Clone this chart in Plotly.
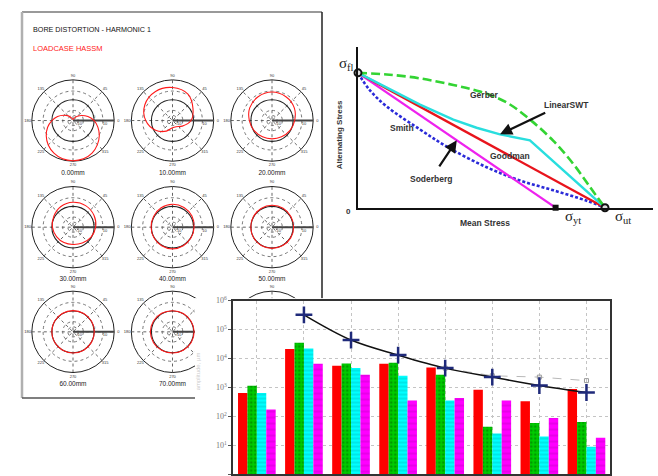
import numpy as np
import plotly.graph_objects as go

W, H = 658, 476

# ---------------- data: bore distortion document ----------------
DOC_TITLE = "BORE DISTORTION - HARMONIC 1"
DOC_LOADCASE = "LOADCASE HASSM"
SECTION_LABELS = ["0.00mm", "10.00mm", "20.00mm", "30.00mm", "40.00mm",
                  "50.00mm", "60.00mm", "70.00mm", "80.00mm"]
ANGLES_15 = [0, 15, 30, 45, 60, 75, 90, 105, 120, 135, 150, 165,
             180, 195, 210, 225, 240, 255, 270, 285, 300, 315, 330, 345]
ANGLES_30 = [0, 30, 60, 90, 120, 150, 180, 210, 240, 270, 300, 330]
R_0MM = [20.5, 15, 10, 6, 3, 1.5, 1, 1.5, 3, 6.5, 10.5, 15.5,
         20.5, 25.5, 30, 34, 37, 39, 39.5, 39, 37, 33.5, 29.5, 25]
R_10MM = [18, 23, 30, 32.5, 33, 31, 26, 19, 12, 7, 7, 11]
R_20MM = [22, 25, 27, 28, 27, 25, 22, 20, 18.5, 18, 18.5, 20]
R_30MM = [22, 23.5, 24.5, 24.5, 23.5, 21.5, 20, 18.5, 17.5, 17, 18, 20]
R_40MM = [21, 21.8, 22.3, 22.5, 22, 21.2, 20.8, 20.8, 21, 21.3, 21, 20.8]
R_50MM = [21, 21.2, 21.5, 21.5, 21.2, 20.8, 20.6, 20.6, 20.8, 20.8, 20.8, 21]
R_60MM = [20.7, 20.8, 20.9, 20.9, 20.8, 20.7, 20.6, 20.6, 20.7, 20.8, 20.8, 20.7]
R_70MM = [21, 20.8, 20.8, 20.8, 21, 21.3, 21.5, 21.3, 21, 20.8, 20.8, 21]
R_80MM = [20.8, 20.8, 20.8, 20.8, 20.8, 20.8, 20.8, 20.8, 20.8, 20.8, 20.8, 20.8]
NOMINAL_R = 20.5
OUTER_R = 40
GRID_RADII = [5, 10, 29]
SPOKE_ANGLES = [0, 45, 90, 135]
ANGULAR_TICKS = [0, 45, 90, 135, 180, 225, 270, 315]
ANGULAR_TICK_TEXT = ["0", "45", "90", "135", "180", "225", "270", "315"]
RADIAL_TICKS = [6, 20.5, 31]
RADIAL_TICK_TEXT = ["-10", "0", "10"]

# ---------------- data: Haigh / Goodman diagram ----------------
GOODMAN_X = [0, 1.0]
GOODMAN_Y = [1.0, 0]
SODERBERG_X = [0, 0.80]
SODERBERG_Y = [1.0, 0]
GERBER_X = [0, 0.116, 0.251, 0.386, 0.494, 0.602, 0.696, 0.791, 0.872, 0.939, 1.0]
GERBER_Y = [1.0, 0.988, 0.959, 0.910, 0.861, 0.780, 0.654, 0.495, 0.324, 0.154, 0]
SMITH_X = [0, 0.047, 0.116, 0.251, 0.366, 0.521, 0.656, 0.791, 0.926, 1.0]
SMITH_Y = [1.0, 0.873, 0.751, 0.580, 0.446, 0.300, 0.202, 0.129, 0.052, 0]
SWT_X = [0, 0.116, 0.251, 0.386, 0.480, 0.575, 0.640, 0.696, 1.0]
SWT_Y = [1.0, 0.890, 0.764, 0.654, 0.593, 0.544, 0.520, 0.500, 0]
SIGMA_FL = (0, 1.0)
SIGMA_YT = (0.80, 0)
SIGMA_UT = (1.0, 0)

# ---------------- data: bar chart ----------------
BAR_CATEGORIES = [1, 2, 3, 4, 5, 6, 7, 8]
BAR_RED = [630, 21000, 5600, 6500, 4800, 820, 330, 870]
BAR_GREEN = [1120, 35000, 6700, 7100, 2700, 43, 58, 63]
BAR_CYAN = [630, 22000, 4600, 2500, 350, 25, 20, 8.7]
BAR_MAGENTA = [170, 6500, 2700, 350, 430, 350, 87, 18]
LIMIT_X = [2, 3, 4, 5, 6, 7, 8]
LIMIT_Y = [320000, 43000, 13000, 4600, 2250, 1150, 660]
REF_X = [5, 6, 7, 8]
REF_Y = [4600, 2500, 2250, 1700]
LOG_TICKS = [1, 10, 100, 1000, 10000, 100000, 1000000]
LOG_TICK_TEXT = ["10<sup>0</sup>", "10<sup>1</sup>", "10<sup>2</sup>", "10<sup>3</sup>",
                 "10<sup>4</sup>", "10<sup>5</sup>", "10<sup>6</sup>"]

SANS = "Liberation Sans, Arial, sans-serif"
SERIF = "Liberation Serif, Times New Roman, serif"


def fx(px):
    return px / W


def fy(py):
    return 1 - py / H


def ids(n):
    s = "" if n == 1 else str(n)
    return "x" + s, "y" + s, "xaxis" + s, "yaxis" + s


fig = go.Figure()
axes = {}
shapes = []
annotations = []

# bar-chart panel region (px) that hides the lower-right of the document
PANEL_X0, PANEL_Y0 = 195, 296


def hidden(px, py):
    return px > PANEL_X0 - 2 and py > PANEL_Y0 - 3


# ---------- document frame ----------
shapes += [
    dict(type="line", xref="paper", yref="paper", x0=fx(22), x1=fx(322), y0=fy(6), y1=fy(6),
         line=dict(color="#777", width=1.5), layer="below"),
    dict(type="line", xref="paper", yref="paper", x0=fx(22), x1=fx(22), y0=fy(6), y1=fy(397),
         line=dict(color="#b0b0b0", width=2.5), layer="below"),
    dict(type="line", xref="paper", yref="paper", x0=fx(22), x1=fx(322), y0=fy(397), y1=fy(397),
         line=dict(color="#555", width=1.5), layer="below"),
    dict(type="line", xref="paper", yref="paper", x0=fx(322), x1=fx(322), y0=fy(6), y1=fy(397),
         line=dict(color="#222", width=1.5), layer="below"),
]
annotations += [
    dict(xref="paper", yref="paper", x=fx(31), y=fy(24), xanchor="left", yanchor="middle",
         text=DOC_TITLE, showarrow=False, font=dict(family=SANS, size=7.2, color="#111")),
    dict(xref="paper", yref="paper", x=fx(31), y=fy(43), xanchor="left", yanchor="middle",
         text=DOC_LOADCASE, showarrow=False, font=dict(family=SANS, size=7.5, color="#ff2020")),
]

# ---------- polar plots ----------
POLAR_CENTERS = [(73, 116), (172.5, 116), (272, 116),
                 (73, 224), (172.5, 224), (272, 224),
                 (73, 330), (172.5, 330), (272, 330)]
POLAR_R = [R_0MM, R_10MM, R_20MM, R_30MM, R_40MM, R_50MM, R_60MM, R_70MM, R_80MM]
POLAR_ANG = [ANGLES_15] + [ANGLES_30] * 8
PXU = 1.03
HALF_X = 49.5
TOP = 48.5
BOTTOM = 56.0

for i, (cx, cy) in enumerate(POLAR_CENTERS):
    xr, yr, xa, ya = ids(i + 1)
    axes[xa] = dict(domain=[fx(cx - HALF_X), fx(cx + HALF_X)], range=[-HALF_X / PXU, HALF_X / PXU],
                    visible=False, anchor=yr)
    axes[ya] = dict(domain=[fy(cy + BOTTOM), fy(cy - TOP)], range=[-BOTTOM / PXU, TOP / PXU],
                    visible=False, anchor=xr)
    for rr in GRID_RADII:
        shapes.append(dict(type="circle", xref=xr, yref=yr, x0=-rr, x1=rr, y0=-rr, y1=rr,
                           line=dict(color="#666", width=0.9, dash="dot"), layer="below"))
    for a in SPOKE_ANGLES:
        c, s = np.cos(np.deg2rad(a)), np.sin(np.deg2rad(a))
        shapes.append(dict(type="line", xref=xr, yref=yr,
                           x0=-OUTER_R * c, x1=OUTER_R * c, y0=-OUTER_R * s, y1=OUTER_R * s,
                           line=dict(color="#555", width=0.9, dash="dot"), layer="below"))
    shapes.append(dict(type="circle", xref=xr, yref=yr, x0=-OUTER_R, x1=OUTER_R, y0=-OUTER_R, y1=OUTER_R,
                       line=dict(color="#222", width=1), layer="below"))
    shapes.append(dict(type="circle", xref=xr, yref=yr, x0=-NOMINAL_R, x1=NOMINAL_R,
                       y0=-NOMINAL_R, y1=NOMINAL_R, line=dict(color="#222", width=1.1), layer="below"))
    shapes.append(dict(type="line", xref=xr, yref=yr, x0=0, x1=OUTER_R, y0=0, y1=0,
                       line=dict(color="#444", width=2), layer="below"))

    ang = POLAR_ANG[i] + [POLAR_ANG[i][0]]
    rad = np.array(POLAR_R[i] + [POLAR_R[i][0]])
    th = np.deg2rad(ang)
    fig.add_trace(go.Scatter(x=rad * np.cos(th), y=rad * np.sin(th), xaxis=xr, yaxis=yr,
                             mode="lines", line=dict(color="#ff1a1a", width=1.1, shape="spline", smoothing=1),
                             hoverinfo="skip", showlegend=False, cliponaxis=False))

    # tick labels and caption (only those not covered by the bar-chart panel)
    tx, ty, tt = [], [], []
    for a, t in zip(ANGULAR_TICKS, ANGULAR_TICK_TEXT):
        tx.append(44 * np.cos(np.deg2rad(a))); ty.append(44 * np.sin(np.deg2rad(a))); tt.append(t)
    for r, t in zip(RADIAL_TICKS, RADIAL_TICK_TEXT):
        tx.append(r); ty.append(3.5 if t == "0" else -3.5); tt.append(t)
    keep = [k for k in range(len(tx)) if not hidden(cx + tx[k] * PXU, cy - ty[k] * PXU)]
    if keep:
        fig.add_trace(go.Scatter(x=[tx[k] for k in keep], y=[ty[k] for k in keep], xaxis=xr, yaxis=yr,
                                 mode="text", text=[tt[k] for k in keep],
                                 textfont=dict(family=SANS, size=4, color="#333"),
                                 hoverinfo="skip", showlegend=False, cliponaxis=False))
    if not hidden(cx, cy + 52):
        fig.add_trace(go.Scatter(x=[0], y=[-51.5], xaxis=xr, yaxis=yr,
                                 mode="text", text=[SECTION_LABELS[i]],
                                 textfont=dict(family=SANS, size=6.5, color="#222"),
                                 hoverinfo="skip", showlegend=False, cliponaxis=False))

# ---------- Haigh diagram ----------
GX0, GX1, GY_TOP, GY_BOT = 358, 653, 42, 204.3
UX = 247.0
UY = 136.6
axes["xaxis10"] = dict(domain=[fx(GX0), fx(GX1)], range=[0, (GX1 - GX0) / UX], anchor="y10",
                       showline=True, linecolor="#111", linewidth=2.5, showgrid=False,
                       zeroline=False, showticklabels=False, ticks="")
axes["yaxis10"] = dict(domain=[fy(GY_BOT), fy(GY_TOP)], range=[0, (GY_BOT - GY_TOP) / UY], anchor="x10",
                       showline=True, linecolor="#111", linewidth=2.5, showgrid=False,
                       zeroline=False, showticklabels=False, ticks="")


def haigh_line(x, y, color, dash="solid", width=2.4, shape="linear"):
    fig.add_trace(go.Scatter(x=x, y=y, xaxis="x10", yaxis="y10", mode="lines",
                             line=dict(color=color, width=width, dash=dash, shape=shape),
                             hoverinfo="skip", showlegend=False, cliponaxis=False))


haigh_line(SMITH_X, SMITH_Y, "#2a2ad8", dash="3px,2px", width=2.6, shape="spline")
haigh_line(SODERBERG_X, SODERBERG_Y, "#ee22ee", width=2.2)
haigh_line(GOODMAN_X, GOODMAN_Y, "#e8141c", width=2.4)
haigh_line(SWT_X, SWT_Y, "#29dede", width=2.4)
haigh_line(GERBER_X, GERBER_Y, "#33d433", dash="9px,4px", width=2.6, shape="spline")

fig.add_trace(go.Scatter(x=[SIGMA_YT[0]], y=[SIGMA_YT[1]], xaxis="x10", yaxis="y10", mode="markers",
                         marker=dict(symbol="square", size=6, color="#111"),
                         hoverinfo="skip", showlegend=False, cliponaxis=False))
fig.add_trace(go.Scatter(x=[SIGMA_FL[0], SIGMA_UT[0]], y=[SIGMA_FL[1], SIGMA_UT[1]], xaxis="x10", yaxis="y10",
                         mode="markers",
                         marker=dict(symbol="circle", size=7, color="#dddddd", line=dict(color="#111", width=2)),
                         hoverinfo="skip", showlegend=False, cliponaxis=False))


def hlabel(text, x, y, size=8.5):
    annotations.append(dict(xref="x10", yref="y10", x=x, y=y, text="<b>%s</b>" % text, showarrow=False,
                            font=dict(family=SANS, size=size, color="#333"),
                            xanchor="center", yanchor="middle"))


hlabel("Gerber", 0.514, 0.836)
hlabel("LinearSWT", 0.845, 0.763)
hlabel("Smith", 0.177, 0.593)
hlabel("Goodman", 0.615, 0.385)
hlabel("Soderberg", 0.298, 0.214)

for (hx, hy, tx_, ty_) in [(0.575, 0.544, 0.764, 0.71), (0.40, 0.50, 0.325, 0.295)]:
    annotations.append(dict(xref="x10", yref="y10", x=hx, y=hy, ax=tx_, ay=ty_,
                            axref="x10", ayref="y10", text="", showarrow=True,
                            arrowhead=2, arrowsize=1.1, arrowwidth=2.2, arrowcolor="#111"))

for text, px, py in [("σ<sub>fl</sub>", 346, 59), ("σ<sub>yt</sub>", 573, 214), ("σ<sub>ut</sub>", 623, 214)]:
    annotations.append(dict(xref="paper", yref="paper", x=fx(px), y=fy(py), text=text, showarrow=False,
                            font=dict(family=SERIF, size=15, color="#222"),
                            xanchor="center", yanchor="middle"))
annotations += [
    dict(xref="paper", yref="paper", x=fx(348), y=fy(208), text="<b>0</b>", showarrow=False,
         font=dict(family=SANS, size=8, color="#333"), xanchor="center", yanchor="middle"),
    dict(xref="paper", yref="paper", x=fx(485), y=fy(220), text="<b>Mean Stress</b>", showarrow=False,
         font=dict(family=SANS, size=8.5, color="#333"), xanchor="center", yanchor="middle"),
    dict(xref="paper", yref="paper", x=fx(339), y=fy(131), text="<b>Alternating Stress</b>", showarrow=False,
         textangle=-90, font=dict(family=SANS, size=8, color="#333"), xanchor="center", yanchor="middle"),
]

# ---------- white panel behind the bar chart ----------
axes["xaxis11"] = dict(domain=[fx(PANEL_X0), 1], range=[0, 1], visible=False, anchor="y11")
axes["yaxis11"] = dict(domain=[0, fy(PANEL_Y0)], range=[0, 1], visible=False, anchor="x11")
fig.add_trace(go.Scatter(x=[0, 1, 1, 0, 0], y=[0, 0, 1, 1, 0], xaxis="x11", yaxis="y11",
                         mode="lines", fill="toself", fillcolor="white", line=dict(width=0, color="white"),
                         hoverinfo="skip", showlegend=False))

# ---------- bar chart ----------
axes["xaxis12"] = dict(domain=[fx(233.3), fx(610)], range=[0.5, 8.5], anchor="y12",
                       tickvals=BAR_CATEGORIES, showticklabels=False, ticks="",
                       showgrid=True, gridcolor="#c4c4c4", griddash="dot", gridwidth=1,
                       showline=True, mirror=True, linecolor="#333", linewidth=2, zeroline=False)
axes["yaxis12"] = dict(domain=[fy(474), fy(298.3)], type="log", range=[0, 6], anchor="x12",
                       tickvals=LOG_TICKS, ticktext=LOG_TICK_TEXT, ticks="outside", ticklen=3,
                       tickcolor="#555", tickfont=dict(family=SERIF, size=8, color="#777"),
                       showgrid=True, gridcolor="#c4c4c4", griddash="dot", gridwidth=1,
                       showline=True, mirror=True, linecolor="#333", linewidth=2, zeroline=False)

BAR_STYLES = [
    (BAR_RED, "#ff0000", None),
    (BAR_GREEN, "#00cc00", dict(shape=".", fgcolor="#006600", size=4, solidity=0.35)),
    (BAR_CYAN, "#00ffff", dict(shape="-", fgcolor="#00a0a0", size=4, solidity=0.25)),
    (BAR_MAGENTA, "#ff00ff", dict(shape="-", fgcolor="#9a009a", size=6, solidity=0.15)),
]
for vals, col, pat in BAR_STYLES:
    marker = dict(color=col, line=dict(width=0))
    if pat:
        marker["pattern"] = pat
    fig.add_trace(go.Bar(x=BAR_CATEGORIES, y=vals, xaxis="x12", yaxis="y12", marker=marker,
                         hoverinfo="skip", showlegend=False))

fig.add_trace(go.Scatter(x=REF_X, y=REF_Y, xaxis="x12", yaxis="y12", mode="lines+markers",
                         line=dict(color="#b8b8b8", width=1, dash="dash"),
                         marker=dict(symbol="square-open", size=4, color="#999"),
                         hoverinfo="skip", showlegend=False))
fig.add_trace(go.Scatter(x=LIMIT_X, y=LIMIT_Y, xaxis="x12", yaxis="y12", mode="lines+markers",
                         line=dict(color="#111", width=1.5, shape="spline"),
                         marker=dict(symbol="cross-thin", size=12, line=dict(color="#1f2a7a", width=2.5)),
                         hoverinfo="skip", showlegend=False, cliponaxis=False))
annotations.append(dict(xref="paper", yref="paper", x=fx(198), y=fy(370), text="amplitude, µm",
                        textangle=-90, showarrow=False,
                        font=dict(family=SANS, size=6, color="#cccccc"),
                        xanchor="center", yanchor="middle"))

fig.update_layout(
    width=W, height=H, autosize=False,
    margin=dict(l=0, r=0, t=0, b=0),
    paper_bgcolor="white", plot_bgcolor="white",
    showlegend=False, barmode="group", bargap=0.2, bargroupgap=0,
    hovermode=False,
    shapes=shapes, annotations=annotations,
    **axes,
)
fig.write_html(
    "out.html",
    config={"displayModeBar": False, "staticPlot": True},
    post_script="document.body.style.margin='0';document.body.style.padding='0';"
                "document.body.style.overflow='hidden';",
)
